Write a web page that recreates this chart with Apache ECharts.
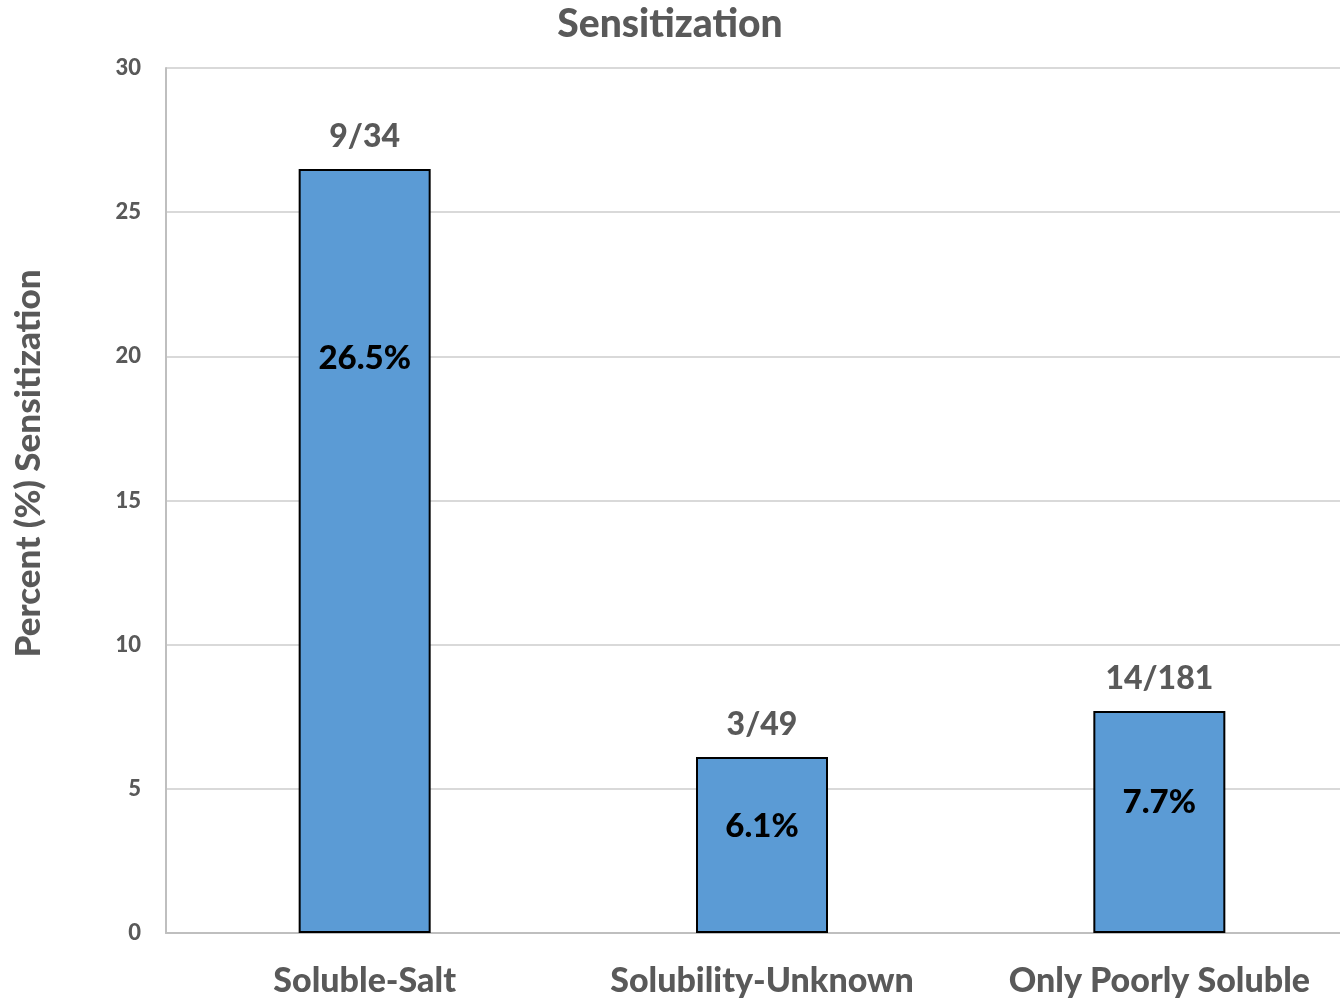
<!DOCTYPE html>
<html>
<head>
<meta charset="utf-8">
<style>
  html, body { margin: 0; padding: 0; background: #ffffff; }
  #chart { width: 1340px; height: 1001px; }
</style>
<script src="https://cdn.jsdelivr.net/npm/echarts@6/dist/echarts.min.js"></script>
</head>
<body>
<div id="chart"></div>
<script>
// Sensitization rate by solubility group
const categories = ['Soluble-Salt', 'Solubility-Unknown', 'Only Poorly Soluble'];
const percentValues = [26.5, 6.1, 7.7];
const caseFractions = ['9/34', '3/49', '14/181'];
const yTicks = { min: 0, max: 30, interval: 5 };

// distance (px) from each bar's top edge to the centre of its percentage label
const innerLabelDepth = [189, 69, 91];

const FONT = 'Lato, "Open Sans", sans-serif';
const GREY = '#595959';
const HEAVY = 900;

const chart = echarts.init(document.getElementById('chart'), null, { renderer: 'canvas' });

const barData = percentValues.map((v, i) => ({
  value: v,
  label: {
    show: true,
    position: ['50%', innerLabelDepth[i]],
    align: 'center',
    verticalAlign: 'middle',
    formatter: v.toFixed(1) + '%',
    color: '#000000',
    fontFamily: FONT,
    fontWeight: HEAVY,
    fontSize: 33
  }
}));

chart.setOption({
  animation: false,
  backgroundColor: '#ffffff',
  title: {
    text: 'Sensitization',
    left: 'center',
    top: 0,
    textStyle: { color: GREY, fontFamily: FONT, fontWeight: HEAVY, fontSize: 39 }
  },
  grid: { left: 166, top: 68, width: 1192, height: 865, outerBoundsMode: 'none' },
  xAxis: {
    type: 'category',
    data: categories,
    axisLine: { show: true, lineStyle: { color: '#bfbfbf', width: 2 } },
    axisTick: { show: false },
    axisLabel: { color: GREY, fontFamily: FONT, fontWeight: HEAVY, fontSize: 34, margin: 31 },
    splitLine: { show: false }
  },
  yAxis: {
    type: 'value',
    min: yTicks.min,
    max: yTicks.max,
    interval: yTicks.interval,
    name: 'Percent (%) Sensitization',
    nameLocation: 'middle',
    nameGap: 120,
    nameTextStyle: { color: GREY, fontFamily: FONT, fontWeight: HEAVY, fontSize: 35, padding: [0, 0, 0, 74] },
    axisLine: { show: true, lineStyle: { color: '#bfbfbf', width: 2 } },
    axisTick: { show: false },
    axisLabel: { color: GREY, fontFamily: FONT, fontWeight: HEAVY, fontSize: 22, margin: 25 },
    splitLine: { show: true, lineStyle: { color: '#d9d9d9', width: 2 } }
  },
  series: [
    {
      type: 'bar',
      data: barData,
      barWidth: 132,
      itemStyle: { color: '#5b9bd5', borderColor: '#000000', borderWidth: 2 },
      z: 3
    },
    {
      // case counts written above each bar
      type: 'bar',
      data: percentValues,
      barWidth: 132,
      barGap: '-100%',
      itemStyle: { color: 'transparent', borderWidth: 0 },
      label: {
        show: true,
        position: 'top',
        distance: 16,
        formatter: p => caseFractions[p.dataIndex],
        color: GREY,
        fontFamily: FONT,
        fontWeight: HEAVY,
        fontSize: 32
      },
      silent: true,
      z: 4
    }
  ]
});
</script>
</body>
</html>
